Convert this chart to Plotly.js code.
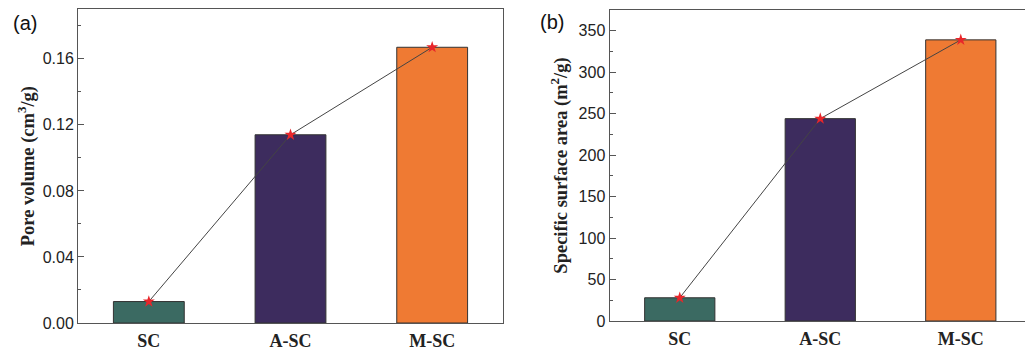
<!DOCTYPE html>
<html>
<head>
<meta charset="utf-8">
<script src="https://cdn.plot.ly/plotly-3.0.1.min.js"></script>
<style>html,body{margin:0;padding:0;background:#fff;}#chart{width:1025px;height:350px;}</style>
</head>
<body>
<div id="chart"></div>
<script>
// ---- data ----
const categories = ['SC', 'A-SC', 'M-SC'];
const poreVolume = [0.013, 0.114, 0.167];      // cm3/g
const surfaceArea = [28, 244, 339];            // m2/g
const panelLabels = ['(a)', '(b)'];
const yTitles = ['Pore volume (cm<sup>3</sup>/g)', 'Specific surface area (m<sup>2</sup>/g)'];

// ---- styles ----
const barColors = ['#3b6a62', '#3d2c5e', '#ef7a33'];
const axisColor = '#555';
const tickFontSans = {family: 'Liberation Sans, Arial, sans-serif', size: 16, color: '#222'};
const tickFontSerif = {family: 'Liberation Serif, Times New Roman, serif', size: 18, color: '#222', weight: 'bold'};
const titleFont = {family: 'Liberation Serif, Times New Roman, serif', size: 18.5, color: '#222', weight: 'bold'};

function barTrace(vals, xa, ya) {
  return {
    type: 'bar', x: categories, y: vals, xaxis: xa, yaxis: ya, width: 0.5,
    marker: {color: barColors, line: {color: '#333', width: 1}},
    hoverinfo: 'x+y', showlegend: false
  };
}
function starTrace(vals, xa, ya) {
  return {
    type: 'scatter', mode: 'lines+markers', x: categories, y: vals, xaxis: xa, yaxis: ya,
    line: {color: '#444', width: 1},
    marker: {symbol: 'star', size: 9, color: '#e8262a', line: {width: 0}},
    cliponaxis: false, showlegend: false
  };
}

const data = [
  barTrace(poreVolume, 'x', 'y'),
  starTrace(poreVolume, 'x', 'y'),
  barTrace(surfaceArea, 'x2', 'y2'),
  starTrace(surfaceArea, 'x2', 'y2')
];

function xAxis(domain, range, anchor, mirror) {
  return {
    domain: domain, range: range, anchor: anchor, type: 'category',
    showline: true, linecolor: axisColor, linewidth: 1, mirror: mirror,
    ticks: '', showgrid: false, zeroline: false,
    tickfont: tickFontSerif, ticklabelstandoff: 1, fixedrange: true
  };
}
function yAxis(domain, range, dtick, minorDtick, fmt, anchor, mirror, title, standoff) {
  return {
    domain: domain, range: range, anchor: anchor, dtick: dtick, tick0: 0,
    tickformat: fmt, showline: true, linecolor: axisColor, linewidth: 1, mirror: mirror,
    ticks: 'inside', ticklen: 6, tickcolor: axisColor, tickwidth: 1,
    minor: {dtick: minorDtick, ticks: 'inside', ticklen: 3, tickcolor: axisColor, showgrid: false},
    showgrid: false, zeroline: false, tickfont: tickFontSans,
    title: {text: title, font: titleFont, standoff: standoff}, fixedrange: true
  };
}

const layout = {
  width: 1025, height: 350,
  margin: {l: 0, r: 0, t: 0, b: 0},
  paper_bgcolor: '#fff', plot_bgcolor: '#fff',
  bargap: 0.5,
  xaxis: xAxis([78/1025, 503/1025], [-0.5, 2.5], 'y', true),
  yaxis: yAxis([27/350, 340.7/350], [0, 0.19], 0.04, 0.02, '.2f', 'x', true, yTitles[0], 3),
  xaxis2: xAxis([609.5/1025, 1], [-0.5, 2.457], 'y2', true),
  yaxis2: yAxis([29/350, 340/350], [0, 375], 50, 25, 'd', 'x2', false, yTitles[1], 6),
  annotations: [
    {text: panelLabels[0], xref: 'paper', yref: 'paper', x: 11/1025, y: (350-23)/350,
     xanchor: 'left', yanchor: 'middle', showarrow: false,
     font: {family: 'Liberation Sans, Arial, sans-serif', size: 20, color: '#111'}},
    {text: panelLabels[1], xref: 'paper', yref: 'paper', x: 538/1025, y: (350-22)/350,
     xanchor: 'left', yanchor: 'middle', showarrow: false,
     font: {family: 'Liberation Sans, Arial, sans-serif', size: 20, color: '#111'}}
  ]
};

Plotly.newPlot('chart', data, layout, {staticPlot: true});
</script>
</body>
</html>
